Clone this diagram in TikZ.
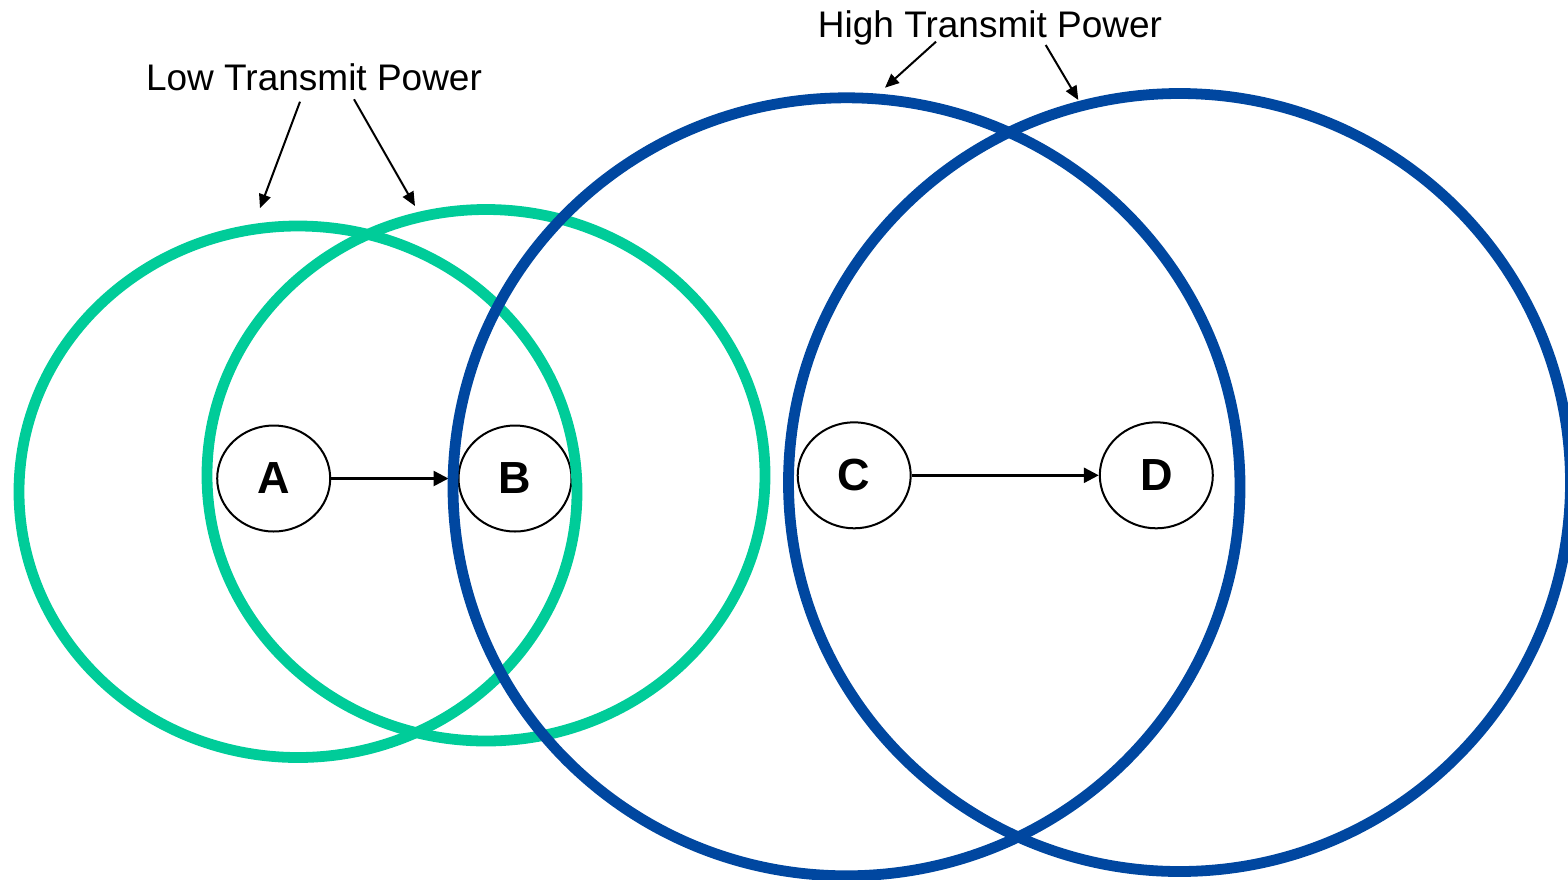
\documentclass[tikz,border=0pt]{standalone}
\usepackage{fontspec}
\setmainfont{Liberation Sans}
\usetikzlibrary{shapes.geometric,arrows.meta}
\definecolor{lowgreen}{RGB}{0,204,153}
\definecolor{highblue}{RGB}{0,71,160}
\tikzset{
  station/.style={ellipse, draw, line width=1pt, minimum width=56.5pt, minimum height=53pt, inner sep=0pt, font=\fontsize{22.5}{26}\selectfont\bfseries},
  link/.style={-{Triangle[length=7.5pt,width=7.5pt]}, line width=1.3pt},
  pointer/.style={-{Triangle[length=7pt,width=6pt]}, line width=1pt},
  caption/.style={anchor=base, inner sep=0pt, font=\fontsize{18.5}{21}\selectfont},
  lowrange/.style={draw=lowgreen, line width=5.4pt},
  highrange/.style={draw=highblue, line width=5.4pt}
}
\begin{document}
\begin{tikzpicture}[x=0.5pt,y=-0.5pt]
\useasboundingbox (0,0) rectangle (1568,879);
% stations
\node[station] (A) at (273.7,478.5) {A};
\node[station] (B) at (515,478.5) {B};
\node[station] (C) at (854.2,475.3) {C};
\node[station] (D) at (1156.3,475.3) {D};
\draw[link, shorten >=4.5pt] (A) -- (B);
\draw[link] (C) -- (D);
% ranges
\draw[lowrange] (298,491.75) ellipse [x radius=279, y radius=265.75];
\draw[lowrange] (486,475.25) ellipse [x radius=279, y radius=265.75];
\draw[highrange] (846.5,486.8) ellipse [x radius=393.5, y radius=389];
\draw[highrange] (1179.5,482.5) ellipse [x radius=391, y radius=389];
% labels
\node[caption] (low) at (314,90.7) {Low Transmit Power};
\node[caption] (high) at (990,37.3) {High Transmit Power};
\coordinate (low1) at (300,101.7);
\coordinate (low2) at (354,99.3);
\coordinate (lowend1) at (260,208.3);
\coordinate (lowend2) at (415,206);
\coordinate (high1) at (936,41.7);
\coordinate (high2) at (1045.7,45);
\coordinate (highend1) at (885,87.7);
\coordinate (highend2) at (1078.3,100);
\draw[pointer] (low1) -- (lowend1);
\draw[pointer] (low2) -- (lowend2);
\draw[pointer] (high1) -- (highend1);
\draw[pointer] (high2) -- (highend2);
\end{tikzpicture}
\end{document}
